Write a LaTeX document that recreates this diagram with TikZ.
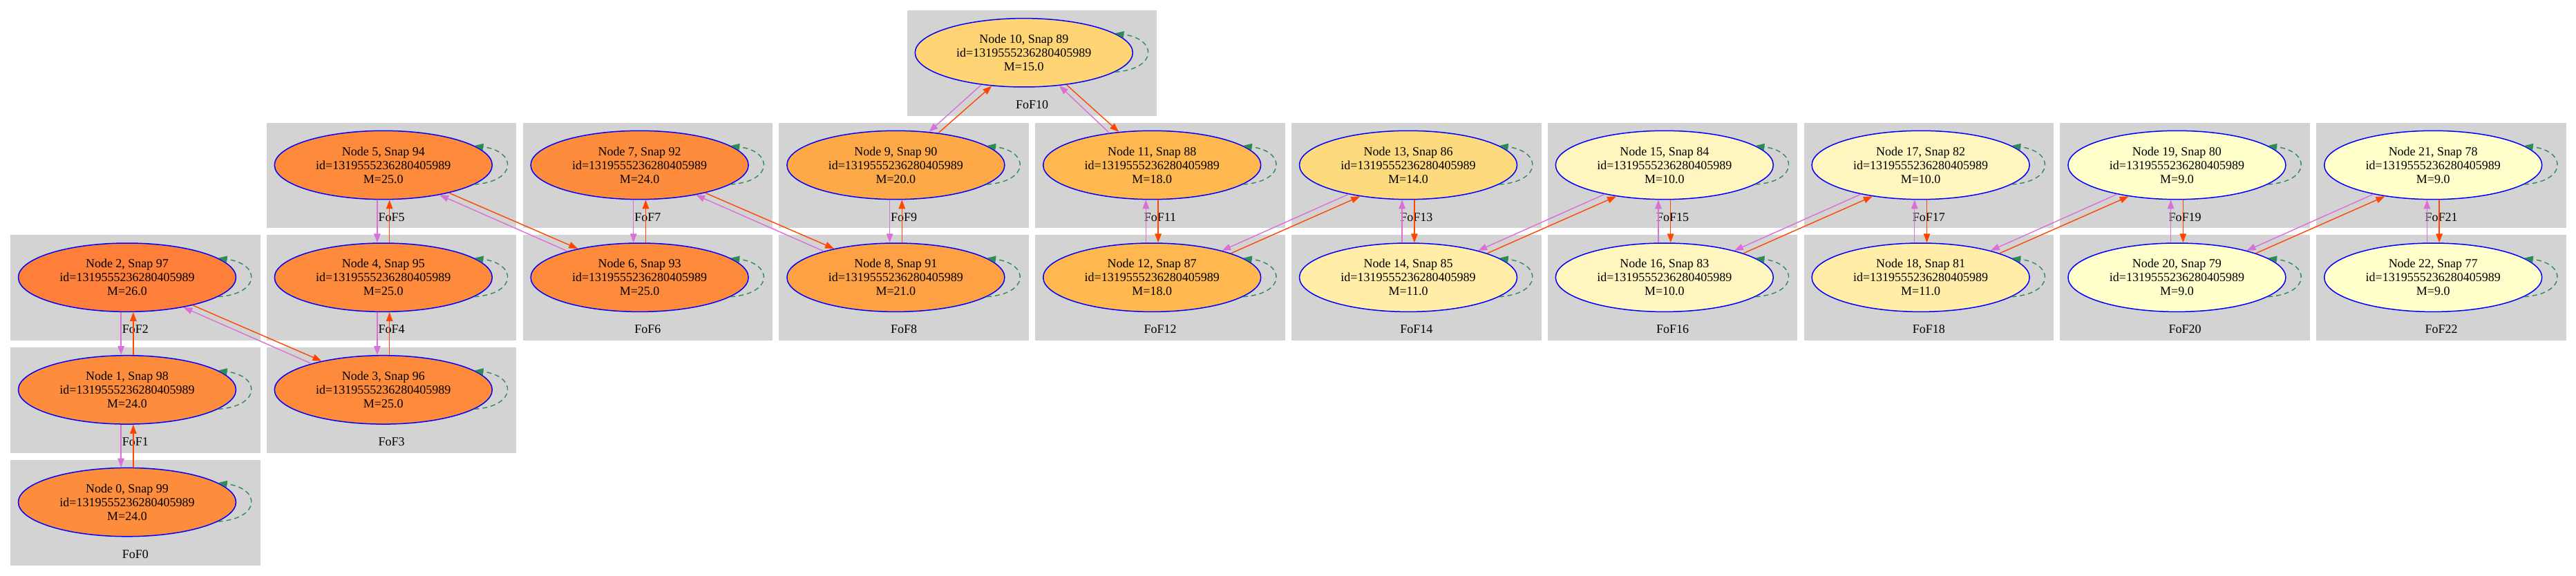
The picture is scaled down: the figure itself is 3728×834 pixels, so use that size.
\documentclass[tikz,border=0pt]{standalone}
\usepackage{fontspec}
\setmainfont{Liberation Serif}
\usetikzlibrary{shapes.geometric,arrows.meta}
\definecolor{clusterbg}{HTML}{D3D3D3}
\definecolor{edgered}{HTML}{FF4500}
\definecolor{edgeviolet}{HTML}{DA70D6}
\definecolor{loopgreen}{HTML}{2E8B57}
\definecolor{ellblue}{HTML}{0000FF}
\definecolor{cA}{HTML}{FD7F39}
\definecolor{cB}{HTML}{FD8B3B}
\definecolor{cC}{HTML}{FD8D3C}
\definecolor{cD}{HTML}{FDA144}
\definecolor{cE}{HTML}{FDA947}
\definecolor{cF}{HTML}{FEB84F}
\definecolor{cG}{HTML}{FED474}
\definecolor{cH}{HTML}{FEDA7E}
\definecolor{cI}{HTML}{FFEDA8}
\definecolor{cJ}{HTML}{FFF5BF}
\definecolor{cK}{HTML}{FFFFCC}
\tikzset{
  galaxy/.style={ellipse, draw=ellblue, line width=1.5pt, minimum width=315pt, minimum height=99.4pt,
    inner sep=0pt, align=center, font=\fontsize{18}{20}\selectfont},
  fofname/.style={inner sep=0pt, font=\fontsize{18}{20}\selectfont},
  redE/.style={draw=edgered, line width=1.4pt, -{Triangle[length=13pt,width=9.5pt]}},
  vioE/.style={draw=edgeviolet, line width=1.4pt, -{Triangle[length=13pt,width=9.5pt]}},
  selfloop/.style={draw=loopgreen, line width=1.4pt, dash pattern=on 7pt off 5pt,
    -{Triangle[length=13pt,width=9.5pt]}},
}
\newcommand{\fofc}[6]{%
  \fill[clusterbg] ({15+370.8*#2},{15+162.7*#3}) rectangle ++(361.6,152.7);
  \node[galaxy, fill=#6] (n#1) at ({15+370.8*#2+169},{15+162.7*#3+61.3})
     {Node #1, Snap #4\\id=1319555236280405989\\M=#5};
  \node[fofname] (f#1) at ({15+370.8*#2+180.8},{15+162.7*#3+136.5}) {FoF#1};
}
\begin{document}
\begin{tikzpicture}[x=1pt,y=-1pt]
\fill[white] (0,0) rectangle (3728,834);
\useasboundingbox (0,0) rectangle (3728,834);
\fofc{0}{0}{4}{99}{24.0}{cC}
\fofc{1}{0}{3}{98}{24.0}{cC}
\fofc{2}{0}{2}{97}{26.0}{cA}
\fofc{3}{1}{3}{96}{25.0}{cB}
\fofc{4}{1}{2}{95}{25.0}{cB}
\fofc{5}{1}{1}{94}{25.0}{cB}
\fofc{6}{2}{2}{93}{25.0}{cB}
\fofc{7}{2}{1}{92}{24.0}{cC}
\fofc{8}{3}{2}{91}{21.0}{cD}
\fofc{9}{3}{1}{90}{20.0}{cE}
\fofc{10}{3.5}{0}{89}{15.0}{cG}
\fofc{11}{4}{1}{88}{18.0}{cF}
\fofc{12}{4}{2}{87}{18.0}{cF}
\fofc{13}{5}{1}{86}{14.0}{cH}
\fofc{14}{5}{2}{85}{11.0}{cI}
\fofc{15}{6}{1}{84}{10.0}{cJ}
\fofc{16}{6}{2}{83}{10.0}{cJ}
\fofc{17}{7}{1}{82}{10.0}{cJ}
\fofc{18}{7}{2}{81}{11.0}{cI}
\fofc{19}{8}{1}{80}{9.0}{cK}
\fofc{20}{8}{2}{79}{9.0}{cK}
\fofc{21}{9}{1}{78}{9.0}{cK}
\fofc{22}{9}{2}{77}{9.0}{cK}
% self loops
\foreach \i in {0,...,22}
  \draw[selfloop] (n\i.-12) .. controls +(62,-4) and +(62,8) .. (n\i.12);
% vertical pairs, lower index below (upward chain)
\foreach \lo/\up in {0/1,1/2,3/4,4/5,6/7,8/9}{
  \draw[redE] (n\lo.80) -- (n\up.-80);
  \draw[vioE] (n\up.-100) -- (n\lo.100);
}
% vertical pairs, lower index above (downward chain)
\foreach \up/\lo in {11/12,13/14,15/16,17/18,19/20,21/22}{
  \draw[redE] (n\up.-80) -- (n\lo.80);
  \draw[vioE] (n\lo.100) -- (n\up.-100);
}
% diagonals down-right
\foreach \a/\b in {2/3,5/6,7/8}{
  \draw[redE] (n\a.-23) -- (n\b.155);
  \draw[vioE] (n\b.160) -- (n\a.-28);
}
% diagonals up-right
\foreach \a/\b in {12/13,14/15,16/17,18/19,20/21}{
  \draw[redE] (n\a.17) -- (n\b.-147);
  \draw[vioE] (n\b.-154.5) -- (n\a.21.5);
}
% around node 10
\draw[redE] (n9.37.5) -- (n10.-134);
\draw[vioE] (n10.-143.3) -- (n9.45.8);
\draw[redE] (n10.-37.3) -- (n11.135);
\draw[vioE] (n11.143.1) -- (n10.-43.7);
\end{tikzpicture}
\end{document}
